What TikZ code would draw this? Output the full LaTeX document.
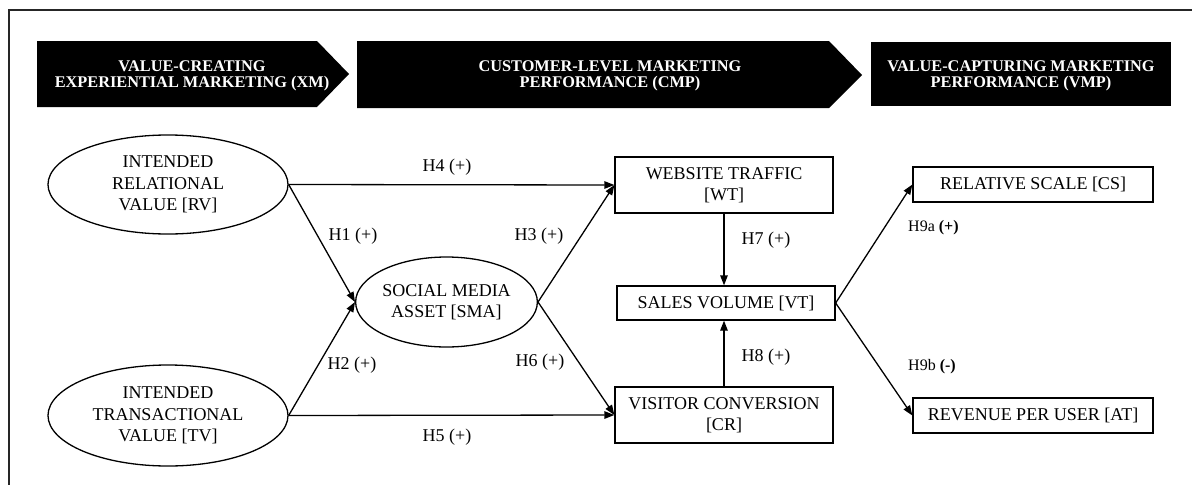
\documentclass[tikz,border=0pt]{standalone}
\usepackage{fontspec}
\setmainfont{Liberation Serif}
\usetikzlibrary{arrows.meta,shapes.geometric}
\begin{document}
\begin{tikzpicture}[x=1pt,y=-1pt,
  banner/.style={fill=black},
  bannertext/.style={text=white,align=center,font=\bfseries\fontsize{16.3}{16.5}\selectfont,inner sep=0},
  construct/.style={ellipse,draw,line width=1.3pt,inner sep=0,align=center,font=\fontsize{18}{21.5}\selectfont},
  measure/.style={rectangle,draw,line width=1.3pt,inner sep=0,align=center,font=\fontsize{18}{21}\selectfont},
  link/.style={line width=1.3pt,-{Triangle[length=10pt,width=7.5pt]}},
  hyp/.style={inner sep=0,font=\fontsize{18}{20}\selectfont},
  hypsmall/.style={inner sep=0,anchor=west,font=\fontsize{16}{18}\selectfont},
]
\useasboundingbox (0,0) rectangle (1192,485);
% frame
\draw[line width=1.5pt,black!85] (1192,10) -- (9,10) -- (9,485);
% banners
\fill[banner] (37,41) -- (317,41) -- (349,74) -- (317,107) -- (37,107) -- cycle;
\fill[banner] (357,41) -- (829,41) -- (862,75) -- (829,108) -- (357,108) -- cycle;
\fill[banner] (871,42) rectangle (1171,106);
\node[bannertext] (b1) at (192,76) {VALUE-CREATING\\EXPERIENTIAL MARKETING (XM)};
\node[bannertext] (b2) at (610,76) {CUSTOMER-LEVEL MARKETING\\PERFORMANCE (CMP)};
\node[bannertext] (b3) at (1021,76) {VALUE-CAPTURING MARKETING\\PERFORMANCE (VMP)};
% constructs
\node[construct,minimum width=240pt,minimum height=99pt] (RV) at (168,184.5) {INTENDED\\RELATIONAL\\VALUE {[RV]}};
\node[construct,minimum width=240pt,minimum height=101pt] (TV) at (168,415.5) {INTENDED\\TRANSACTIONAL\\VALUE {[TV]}};
\node[construct,minimum width=177pt,minimum height=90pt] (SMA) at (446.5,302) {SOCIAL MEDIA\\ASSET {[SMA]}};
\node[measure,minimum width=218pt,minimum height=56pt] (WT) at (724,185) {WEBSITE TRAFFIC\\{}[WT]};
\node[measure,minimum width=218pt,minimum height=34pt] (VT) at (726,303) {SALES VOLUME {[VT]}};
\node[measure,minimum width=218pt,minimum height=56pt] (CR) at (724,415) {VISITOR CONVERSION\\{}[CR]};
\node[measure,minimum width=240pt,minimum height=35pt] (CS) at (1033,184.5) {RELATIVE SCALE {[CS]}};
\node[measure,minimum width=240pt,minimum height=35pt] (AT) at (1033,415.5) {REVENUE PER USER {[AT]}};
% paths
\draw[link] (RV.east) -- (WT.west);
\draw[link] (RV.east) -- (SMA.west);
\draw[link] (TV.east) -- (SMA.west);
\draw[link] (TV.east) -- (CR.west);
\draw[link] (SMA.east) -- (WT.west);
\draw[link] (SMA.east) -- (CR.west);
\draw[link] (WT.south) -- (WT.south |- VT.north);
\draw[link] (CR.north) -- (CR.north |- VT.south);
\draw[link] (VT.east) -- (CS.west);
\draw[link] (VT.east) -- (AT.west);
% labels
\node[hyp] (h4) at (447,167) {H4 (+)};
\node[hyp] (h1) at (353,236) {H1 (+)};
\node[hyp] (h2) at (352,365) {H2 (+)};
\node[hyp] (h5) at (447,437) {H5 (+)};
\node[hyp] (h3) at (539,236) {H3 (+)};
\node[hyp] (h6) at (540,362) {H6 (+)};
\node[hyp] (h7) at (766,240) {H7 (+)};
\node[hyp] (h8) at (766,357) {H8 (+)};
\node[hypsmall] (h9a) at (908,228) {H9a \textbf{(+)}};
\node[hypsmall] (h9b) at (908,367) {H9b \textbf{(-)}};
\end{tikzpicture}
\end{document}
